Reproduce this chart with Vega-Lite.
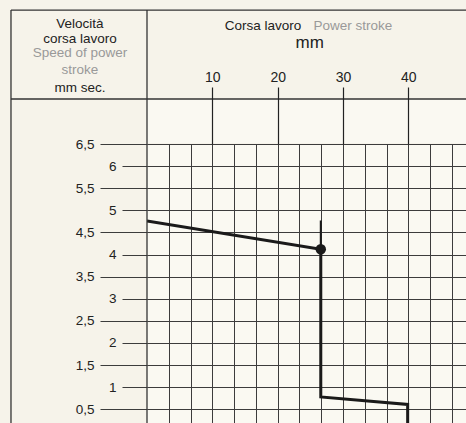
{
  "$schema": "https://vega.github.io/schema/vega-lite/v6.json",
  "width": 319,
  "height": 279,
  "autosize": {"type": "none"},
  "padding": {"left": 147, "top": 144, "right": 0, "bottom": 0},
  "background": "#f6f3ea",
  "config": {
    "view": {"stroke": null, "fill": "#faf9f2"},
    "font": "'Liberation Sans', sans-serif"
  },
  "datasets": {
    "curve": [
      {"corsa_mm": 0, "velocita": 4.76, "ordine": 1},
      {"corsa_mm": 26.6, "velocita": 4.12, "ordine": 2},
      {"corsa_mm": 26.6, "velocita": 0.78, "ordine": 3},
      {"corsa_mm": 39.9, "velocita": 0.61, "ordine": 4},
      {"corsa_mm": 39.9, "velocita": 0, "ordine": 5}
    ],
    "tick": [{"corsa_mm": 26.6, "da": 4.12, "a": 4.77}],
    "marker": [{"corsa_mm": 26.6, "velocita": 4.12}]
  },
  "resolve": {"axis": {"x": "independent", "y": "independent"}},
  "layer": [
    {
      "data": {"values": [{}]},
      "mark": {"type": "rect", "fill": "#faf9f2"},
      "encoding": {
        "x": {"datum": 0, "type": "quantitative", "axis": null},
        "x2": {"datum": 48.83},
        "y": {"datum": 6.52, "type": "quantitative", "axis": null},
        "y2": {"datum": 7.518}
      }
    },
    {
      "data": {"name": "curve"},
      "mark": {"type": "line", "color": "#1a1a1a", "strokeWidth": 3, "clip": true, "strokeJoin": "miter"},
      "encoding": {
        "x": {
          "field": "corsa_mm", "type": "quantitative",
          "scale": {"domain": [0, 48.83], "nice": false, "zero": false},
          "axis": {
            "orient": "top", "values": [10, 20, 30, 40], "domain": false, "grid": false,
            "tickSize": 57, "tickColor": "#222", "tickWidth": 1.2,
            "labelPadding": 3, "labelFontSize": 14, "labelColor": "#222",
            "format": "d", "title": null, "zindex": 1
          }
        },
        "y": {
          "field": "velocita", "type": "quantitative",
          "scale": {"domain": [0.19, 6.5], "nice": false, "zero": false},
          "axis": {
            "orient": "left",
            "values": [0.5, 1, 1.5, 2, 2.5, 3, 3.5, 4, 4.5, 5, 5.5, 6, 6.5],
            "domain": false, "grid": true, "gridColor": "#3c3c3c", "gridWidth": 1,
            "tickColor": "#3c3c3c", "tickWidth": 1,
            "tickSize": {"condition": {"test": "datum.value % 1 === 0", "value": 25}, "value": 47},
            "labelPadding": 6, "labelFontSize": 13.5, "labelColor": "#222",
            "labelExpr": "replace(format(datum.value, '~g'), '.', ',')",
            "title": null, "zindex": 0
          }
        },
        "order": {"field": "ordine", "type": "quantitative"}
      }
    },
    {
      "data": {"name": "tick"},
      "mark": {"type": "rule", "color": "#1a1a1a", "strokeWidth": 2},
      "encoding": {
        "x": {"field": "corsa_mm", "type": "quantitative", "axis": null},
        "y": {"field": "da", "type": "quantitative", "axis": null},
        "y2": {"field": "a"}
      }
    },
    {
      "data": {"name": "marker"},
      "mark": {"type": "circle", "size": 110, "color": "#1a1a1a", "opacity": 1},
      "encoding": {
        "x": {
          "field": "corsa_mm", "type": "quantitative",
          "axis": {
            "orient": "bottom",
            "values": [3.3333, 6.6667, 10, 13.3333, 16.6667, 20, 23.3333, 26.6667, 30, 33.3333, 36.6667, 40, 43.3333, 46.6667],
            "grid": true, "gridColor": "#3c3c3c", "gridWidth": 1,
            "ticks": false, "labels": false, "domain": false, "title": null, "zindex": 0
          }
        },
        "y": {"field": "velocita", "type": "quantitative", "axis": null}
      }
    },
    {
      "data": {"values": [{}]},
      "mark": {"type": "rule", "color": "#333", "strokeWidth": 1.3},
      "encoding": {
        "x": {"datum": -20.82, "type": "quantitative", "axis": null},
        "x2": {"datum": 48.83},
        "y": {"datum": 7.518, "type": "quantitative", "axis": null}
      }
    },
    {
      "data": {"values": [{}]},
      "mark": {"type": "rule", "color": "#333", "strokeWidth": 1.3},
      "encoding": {
        "x": {"datum": -20.82, "type": "quantitative", "axis": null},
        "x2": {"datum": 48.83},
        "y": {"datum": 9.53, "type": "quantitative", "axis": null}
      }
    },
    {
      "data": {"values": [{}]},
      "mark": {"type": "rule", "color": "#333", "strokeWidth": 1.3},
      "encoding": {
        "x": {"datum": -20.82, "type": "quantitative", "axis": null},
        "y": {"datum": 0, "type": "quantitative", "axis": null},
        "y2": {"datum": 9.53}
      }
    },
    {
      "data": {"values": [{}]},
      "mark": {"type": "rule", "color": "#333", "strokeWidth": 1.3},
      "encoding": {
        "x": {"datum": 0, "type": "quantitative", "axis": null},
        "y": {"datum": 0, "type": "quantitative", "axis": null},
        "y2": {"datum": 9.53}
      }
    },
    {
      "data": {"values": [{}]},
      "mark": {"type": "text", "text": "Corsa lavoro", "fontSize": 13.5, "color": "#222", "align": "center", "baseline": "alphabetic"},
      "encoding": {
        "x": {"datum": 17.76, "type": "quantitative", "axis": null},
        "y": {"datum": 9.067, "type": "quantitative", "axis": null}
      }
    },
    {
      "data": {"values": [{}]},
      "mark": {"type": "text", "text": "Power stroke", "fontSize": 13.5, "color": "#999", "align": "center", "baseline": "alphabetic"},
      "encoding": {
        "x": {"datum": 31.53, "type": "quantitative", "axis": null},
        "y": {"datum": 9.067, "type": "quantitative", "axis": null}
      }
    },
    {
      "data": {"values": [{}]},
      "mark": {"type": "text", "text": "mm", "fontSize": 17, "color": "#222", "align": "center", "baseline": "alphabetic"},
      "encoding": {
        "x": {"datum": 24.9, "type": "quantitative", "axis": null},
        "y": {"datum": 8.664, "type": "quantitative", "axis": null}
      }
    },
    {
      "data": {"values": [{}]},
      "mark": {"type": "text", "text": ["Velocità", "corsa lavoro"], "fontSize": 13.5, "lineHeight": 14.5, "color": "#222", "align": "center", "baseline": "alphabetic"},
      "encoding": {
        "x": {"datum": -10.26, "type": "quantitative", "axis": null},
        "y": {"datum": 9.123, "type": "quantitative", "axis": null}
      }
    },
    {
      "data": {"values": [{}]},
      "mark": {"type": "text", "text": ["Speed of power", "stroke"], "fontSize": 13.5, "lineHeight": 16.5, "color": "#999", "align": "center", "baseline": "alphabetic"},
      "encoding": {
        "x": {"datum": -10.26, "type": "quantitative", "axis": null},
        "y": {"datum": 8.467, "type": "quantitative", "axis": null}
      }
    },
    {
      "data": {"values": [{}]},
      "mark": {"type": "text", "text": "mm sec.", "fontSize": 13.5, "color": "#222", "align": "center", "baseline": "alphabetic"},
      "encoding": {
        "x": {"datum": -10.26, "type": "quantitative", "axis": null},
        "y": {"datum": 7.687, "type": "quantitative", "axis": null}
      }
    }
  ]
}
